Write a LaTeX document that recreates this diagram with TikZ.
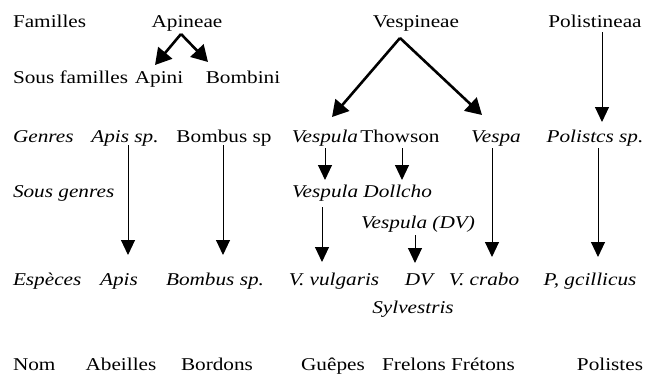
\documentclass[tikz,border=0pt]{standalone}
\usepackage{fontspec}
\setmainfont{Liberation Serif}[FakeStretch=1.18]
\usetikzlibrary{arrows.meta,calc}
\begin{document}
\begin{tikzpicture}[x=1pt,y=-1pt,
  lbl/.style={inner sep=0pt,outer sep=0pt,anchor=base,font=\fontsize{18}{20}\selectfont},
  row/.style={lbl,anchor=base west},
  it/.style={font=\fontsize{18}{20}\selectfont\itshape},
  thin/.style={line width=1pt,-{Triangle[length=15pt,width=14pt]}},
  thick/.style={line width=2.6pt,-{Triangle[length=16pt,width=18pt]}}]
\useasboundingbox (0,0) rectangle (645,375);
% row 1
\node[row] (familles) at (13,27) {Familles};
\node[lbl] (apineae) at (187,27) {Apineae};
\node[lbl] (vespineae) at (416,27) {Vespineae};
\node[lbl] (polistineaa) at (595,27) {Polistineaa};
% row 2
\node[row] (sousfam) at (13,83) {Sous familles};
\node[lbl] (apini) at (159,83) {Apini};
\node[lbl] (bombini) at (243,83) {Bombini};
% row 3
\node[row,it] (genres) at (13,142) {Genres};
\node[lbl,it] (apissp) at (125,142) {Apis sp.};
\node[lbl] (bombussp) at (224,142) {Bombus sp};
\node[lbl,it] (vespula) at (325,142) {Vespula};
\node[lbl] (thowson) at (400,142) {Thowson};
\node[lbl,it] (vespa) at (496,142) {Vespa};
\node[lbl,it] (polistcs) at (595,142) {Polistcs sp.};
% row 4
\node[row,it] (sousgenres) at (13,197) {Sous genres};
\node[lbl,it] (dollcho) at (362,197) {Vespula Dollcho};
\node[lbl,it] (vespdv) at (418,228) {Vespula (DV)};
% row 5
\node[row,it] (especes) at (13,285) {Espèces};
\node[lbl,it] (apis) at (119,285) {Apis};
\node[lbl,it] (bombus) at (215,285) {Bombus sp.};
\node[lbl,it] (vulgaris) at (334,285) {V. vulgaris};
\node[lbl,it] (dv) at (419,285) {DV};
\node[lbl,it] (crabo) at (484,285) {V. crabo};
\node[lbl,it] (gcillicus) at (590,285) {P, gcillicus};
\node[lbl,it] (sylvestris) at (413,313) {Sylvestris};
% row 6
\node[row] (nom) at (13,370) {Nom};
\node[lbl] (abeilles) at (121,370) {Abeilles};
\node[lbl] (bordons) at (217,370) {Bordons};
\node[lbl] (guepes) at (333,370) {Guêpes};
\node[lbl] (frelons) at (414,370) {Frelons};
\node[lbl] (fretons) at (483,370) {Frétons};
\node[lbl] (polistes) at (610,370) {Polistes};
% fork arrows
\coordinate (apx1) at ($(apineae.base)+(-6,7)$);
\draw[thick] (apx1) -- ($(apini.base)+(-4,-18)$);
\draw[thick] (apx1) -- ($(bombini.base)+(-35,-21)$);
\coordinate (apx2) at ($(vespineae.base)+(-16,11)$);
\draw[thick] (apx2) -- ($(vespula.base)+(7,-25)$);
\draw[thick] (apx2) -- ($(vespa.base)+(-14,-27)$);
% thin arrows
\draw[thin] ($(polistineaa.base)+(7,5)$) -- ($(polistcs.base)+(7,-20)$);
\draw[thin] ($(apissp.base)+(3,3)$) -- ($(apis.base)+(9,-30)$);
\draw[thin] ($(bombussp.base)+(-1,3)$) -- ($(bombus.base)+(8,-30)$);
\draw[thin] ($(vespula.base)+(0,6)$) -- ($(dollcho.base)+(-37,-17)$);
\draw[thin] ($(thowson.base)+(2,6)$) -- ($(dollcho.base)+(40,-17)$);
\draw[thin] ($(vespa.base)+(-4,6)$) -- ($(crabo.base)+(8,-28)$);
\draw[thin] ($(polistcs.base)+(3,6)$) -- ($(gcillicus.base)+(8,-28)$);
\draw[thin] ($(dollcho.base)+(-40,10)$) -- ($(vulgaris.base)+(-12,-23)$);
\draw[thin] ($(vespdv.base)+(-3,7)$) -- ($(dv.base)+(-4,-22)$);
\end{tikzpicture}
\end{document}
